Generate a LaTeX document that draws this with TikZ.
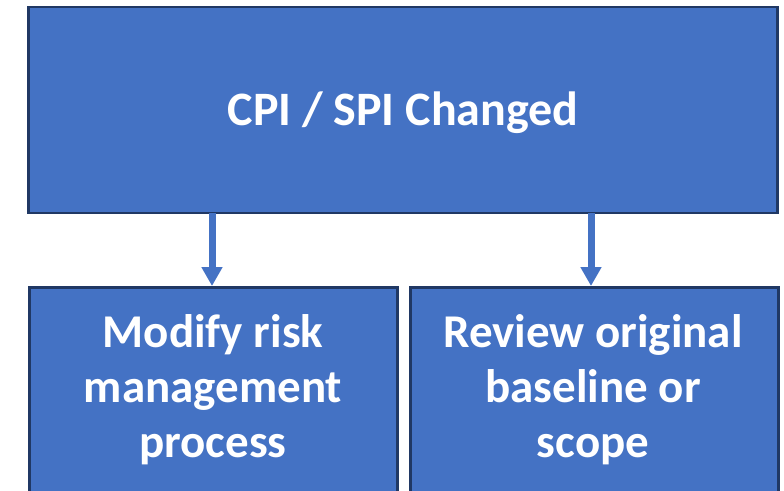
\documentclass[tikz,border=0pt]{standalone}
\usepackage{fontspec}
\setmainfont{Carlito}
\usetikzlibrary{arrows.meta}
\definecolor{boxfill}{HTML}{4472C4}
\definecolor{boxline}{HTML}{203864}
\begin{document}
\begin{tikzpicture}[x=1pt,y=-1pt,
  box/.style={draw=boxline,line width=2.6pt,fill=boxfill,rectangle,inner sep=0pt},
  lbl/.style={text=white,font=\bfseries,align=center,inner sep=0pt},
  conn/.style={draw=boxfill,line width=7pt,-{Triangle[width=20pt,length=19pt]}}]
\useasboundingbox (0,0) rectangle (784,490);
\clip (0,0) rectangle (784,490);
\node[box,minimum width=749pt,minimum height=206pt] (top) at (403,110) {};
\node[lbl,font=\fontsize{48}{58}\selectfont\bfseries,anchor=base] (toptext) at (403,125) {CPI / SPI Changed};
\node[box,minimum width=368pt,minimum height=240pt,anchor=north west] (left) at (28,286) {};
\node[box,minimum width=368pt,minimum height=240pt,anchor=north west] (right) at (409,286) {};
\node[lbl,font=\fontsize{47}{55}\selectfont\bfseries,anchor=base] (lefttext) at (213,457) {Modify risk\\management\\process};
\node[lbl,font=\fontsize{47}{55}\selectfont\bfseries,anchor=base] (righttext) at (593,457) {Review original\\baseline or\\scope};
\coordinate (a1) at (212,213);
\coordinate (a2) at (591,213);
\draw[conn] (a1) -- (a1 |- left.north);
\draw[conn] (a2) -- (a2 |- right.north);
\end{tikzpicture}
\end{document}
